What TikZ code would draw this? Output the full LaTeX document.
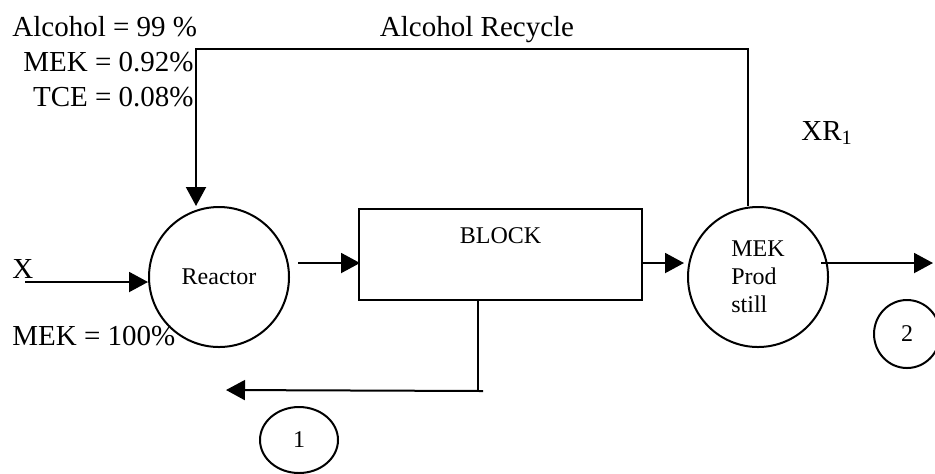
\documentclass[tikz,border=0pt]{standalone}
\usepackage{fontspec}
\setmainfont{Liberation Serif}
\usetikzlibrary{arrows.meta,shapes.geometric}

\begin{document}
\begin{tikzpicture}[
    x=0.5pt, y=-0.5pt,
    unit/.style={draw, circle, line width=1pt, minimum size=70pt, inner sep=0pt, align=left, font=\fontsize{12}{14}\selectfont},
    blockbox/.style={draw, line width=1pt, minimum width=141.5pt, minimum height=45.5pt, inner sep=0pt},
    tag/.style={draw, ellipse, line width=1pt, inner sep=0pt, font=\fontsize{12}{14}\selectfont},
    bigtxt/.style={inner sep=0pt, font=\fontsize{14.5}{17}\selectfont},
    smalltxt/.style={inner sep=0pt, font=\fontsize{12}{14}\selectfont},
    flow/.style={-{Triangle[length=9.5pt, width=10pt]}, line width=1pt},
    pipe/.style={line width=1pt}
]
\useasboundingbox (0,0) rectangle (935,473);

% units
\node[unit] (reactor) at (219,277) {Reactor};
\node[blockbox] (block) at (500.5,254.5) {};
\node[smalltxt] (blocklbl) at (block.north) [yshift=-14pt] {BLOCK};
\node[unit] (mek) at (758,277) {MEK\\Prod\\still};

% stream tags
\node[tag, minimum width=39pt, minimum height=33pt] (tag1) at (299,440) {1};
\node[tag, minimum width=33pt, minimum height=34pt] (tag2) at (907,334) {2};

% stream labels
\node[bigtxt, anchor=base west] (alc) at (12,36) {Alcohol = 99 \%};
\node[bigtxt, anchor=base east] (mekr) at (194,71) {MEK = 0.92\%};
\node[bigtxt, anchor=base east] (tce) at (194,106) {TCE = 0.08\%};
\node[bigtxt, anchor=base] (recyc) at (477,36) {Alcohol Recycle};
\node[bigtxt, anchor=base west] (xr) at (801,140) {XR\textsubscript{1}};
\node[bigtxt, anchor=base west] (xlbl) at (12,278) {X};
\node[bigtxt, anchor=base west] (feed) at (12,345) {MEK = 100\%};

\coordinate (xin) at (25,282);
\coordinate (prodout) at (933,263);
\coordinate (drain) at ([shift={(-22.5,90)}]block.south);
\coordinate (purge) at (226,390);

% connectors
\draw[flow] (xin) -- (xin -| reactor.west);
\draw[flow] ([shift={(8,-14)}]reactor.east) -- ([shift={(2,8.5)}]block.west);
\draw[flow] ([shift={(0,8.5)}]block.east) -- ([shift={(-3,-14)}]mek.west);
\draw[flow] ([shift={(-8,-14)}]mek.east) -- (prodout);
\draw[flow] ([shift={(-10,0)}]mek.north) -- ++(0,-157) -| ([shift={(-23,0)}]reactor.north);
\draw[pipe] ([shift={(-22.5,0)}]block.south) -- (drain);
\draw[flow] ([shift={(5,0)}]drain) -- (purge);

\end{tikzpicture}
\end{document}
